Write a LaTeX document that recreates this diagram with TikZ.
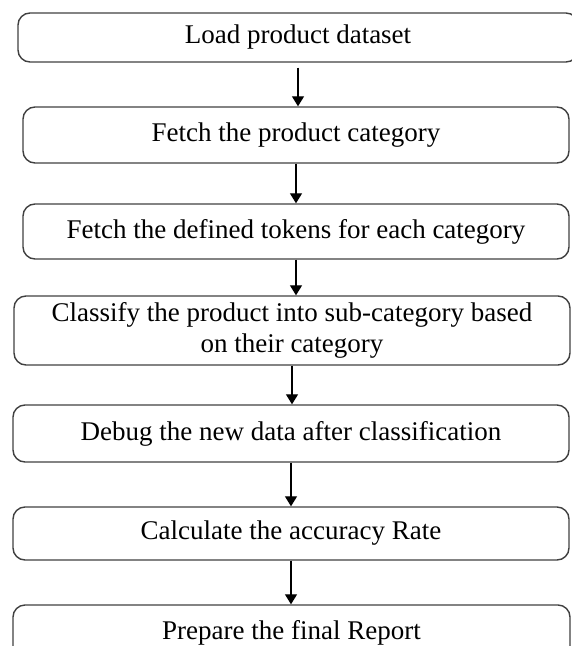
\documentclass[tikz,border=0pt]{standalone}
\usepackage{fontspec}
\setmainfont{Liberation Serif}
\usepackage{tikz}
\usetikzlibrary{arrows.meta}
\tikzstyle{block} = [draw=black!75, line width=1.4pt, rounded corners=12pt, text centered, align=center, inner sep=0pt, font=\fontsize{27}{31}\selectfont]
\tikzset{
  line/.style ={draw, line width=1.3pt, -{Triangle[length=10pt,width=12pt]}}
}
\begin{document}
\begin{tikzpicture}[x=1pt,y=-1pt]
\useasboundingbox (0,0) rectangle (572,646);
\clip (0,0) rectangle (572,646);
% the steps, top to bottom
\node[block, minimum width=560pt, minimum height=49pt] (load) at (298,37.5) {Load product dataset};
\node[block, minimum width=546pt, minimum height=56pt] (category) at (296,135) {Fetch the product category};
\node[block, minimum width=546pt, minimum height=55pt] (tokens) at (296,231.5) {Fetch the defined tokens for each category};
\node[block, minimum width=556pt, minimum height=69pt] (classify) at (292,330.5) {Classify the product into sub-category based\\on their category};
\node[block, minimum width=556pt, minimum height=57pt] (debug) at (291,433.5) {Debug the new data after classification};
\node[block, minimum width=556pt, minimum height=53pt] (rate) at (291,533.5) {Calculate the accuracy Rate};
\node[block, minimum width=557pt, minimum height=55pt] (report) at (291.5,632.5) {Prepare the final Report};
% arrows between steps
\draw [line, shorten <=5pt] (load.south) -- (load.south |- category.north);
\draw [line] (category.south) -- (category.south |- tokens.north);
\draw [line] (tokens.south) -- (tokens.south |- classify.north);
\draw [line] (classify.south) -- (classify.south |- debug.north);
\draw [line] (debug.south) -- (debug.south |- rate.north);
\draw [line] (rate.south) -- (rate.south |- report.north);
\end{tikzpicture}
\end{document}
